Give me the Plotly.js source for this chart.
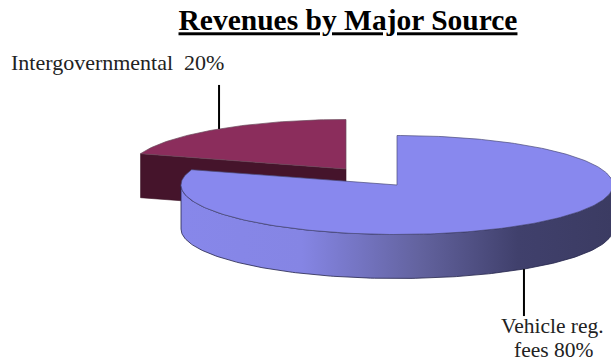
<!DOCTYPE html>
<html>
<head>
<meta charset="utf-8">
<script src="https://cdn.plot.ly/plotly-3.0.1.min.js"></script>
<style>html,body{margin:0;padding:0;background:#fff}#chart{width:611px;height:362px}</style>
</head>
<body>
<div id="chart"></div>
<script>
// Revenue shares, in percent
const categories = ['Vehicle reg. fees', 'Intergovernmental'];
const shares = [80, 20];
const labelLines = [['Vehicle reg.', 'fees 80%'], ['Intergovernmental  20%']];

// Pie geometry on a plot whose axes run in page units
const RX = 216, RY = 49.5, DEPTH = 44;
const centers = [[397, 185], [346, 169]];
const topColors = ['#8888ee', '#8b2d5c'];
const wallGradient = [[0, '#8787ea'], [0.28, '#8585e4'], [0.55, '#63639f'], [0.78, '#40406c'], [1, '#3b3b62']];
const redWall = '#45142b';

// Point on the rim of a slice; the angle is clockwise from twelve o'clock
function rim(c, deg, drop) {
  const a = deg * Math.PI / 180;
  return [c[0] + RX * Math.sin(a), c[1] - RY * Math.cos(a) + (drop || 0)];
}
function arc(c, from, to, drop) {
  const pts = [], n = Math.max(2, Math.ceil(Math.abs(to - from)));
  for (let i = 0; i <= n; i++) pts.push(rim(c, from + (to - from) * i / n, drop));
  return pts;
}
function polygon(pts, extra) {
  return Object.assign({
    type: 'scatter', mode: 'lines', fill: 'toself',
    x: pts.map(p => p[0]), y: pts.map(p => p[1]),
    hoverinfo: 'skip', showlegend: false
  }, extra);
}

const total = shares.reduce((a, b) => a + b, 0);
const blueEnd = 360 * shares[0] / total;     // slice 0 spans 0 .. blueEnd
const redStart = blueEnd, redEnd = 360;      // slice 1 closes the circle
const blueMid = blueEnd / 2, redMid = (redStart + redEnd) / 2;

const cB = centers[0], cR = centers[1];

// Intergovernmental: cut face first, then the top
const redFaceTop = rim(cR, redStart);
const redFace = [cR, redFaceTop, [redFaceTop[0], redFaceTop[1] + DEPTH], [cR[0], cR[1] + DEPTH], cR];
const redTop = [cR].concat(arc(cR, redStart, redEnd)).concat([cR]);

// Vehicle fees: outer wall from the right-most to the left-most rim point, then the top
const blueWall = arc(cB, 90, 270).concat(arc(cB, 270, 90, DEPTH)).concat([rim(cB, 90)]);
const blueTop = [cB].concat(arc(cB, 0, blueEnd)).concat([cB]);

// Leader lines leave each slice at its middle angle
const blueLeadStart = rim(cB, blueMid, DEPTH);
const redLeadStart = rim(cR, redMid);
const LEAD_BLUE = 47, LEAD_RED = 44;
const leader = (p, dy) => ({
  type: 'scatter', mode: 'lines', x: [p[0], p[0]], y: [p[1], p[1] + dy],
  line: { color: '#000', width: 2 }, hoverinfo: 'skip', showlegend: false
});

const traces = [
  polygon(redFace, { name: categories[1], fillcolor: redWall, line: { color: '#3a1024', width: 0.6 } }),
  polygon(redTop, { name: categories[1], fillcolor: topColors[1], line: { color: '#6b4a5c', width: 0.7 } }),
  leader(redLeadStart, -LEAD_RED),
  polygon(blueWall, {
    name: categories[0],
    fillgradient: { type: 'horizontal', colorscale: wallGradient, start: cB[0] - RX, stop: cB[0] + RX },
    line: { color: '#23234a', width: 0.8 }
  }),
  polygon(blueTop, { name: categories[0], fillcolor: topColors[0], line: { color: '#4a4a78', width: 0.7 } }),
  leader(blueLeadStart, LEAD_BLUE)
];

const serif = '"Liberation Serif", "Times New Roman", serif';
const layout = {
  width: 611, height: 362,
  margin: { l: 0, r: 0, t: 0, b: 0 },
  paper_bgcolor: '#fff', plot_bgcolor: '#fff',
  showlegend: false,
  title: {
    text: '<b><u>Revenues by Major Source</u></b>',
    font: { family: serif, size: 29.5, color: '#000' },
    x: 348 / 611, xanchor: 'center', y: 1 - 20 / 362, yanchor: 'middle'
  },
  xaxis: { range: [0, 611], visible: false, fixedrange: true },
  yaxis: { range: [362, 0], visible: false, fixedrange: true },
  annotations: [
    { text: labelLines[1][0], x: 117.5, y: 62, size: 22 },
    { text: labelLines[0][0], x: 552, y: 326, size: 21.5 },
    { text: labelLines[0][1], x: 553, y: 349.5, size: 21.5 }
  ].map(a => ({
    text: a.text, x: a.x, y: a.y, borderpad: 0,
    xref: 'x', yref: 'y', showarrow: false, xanchor: 'center', yanchor: 'middle', align: 'center',
    font: { family: serif, size: a.size, color: '#222' }
  }))
};

Plotly.newPlot('chart', traces, layout, { displayModeBar: false, staticPlot: true });
</script>
</body>
</html>
